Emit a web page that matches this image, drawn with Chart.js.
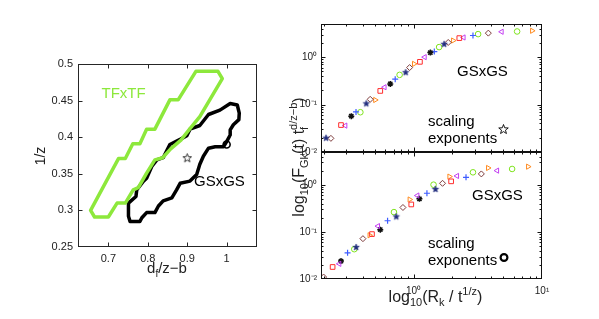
<!DOCTYPE html>
<html><head><meta charset="utf-8">
<script src="https://cdn.jsdelivr.net/npm/chart.js@4"></script>
<style>html,body{margin:0;padding:0;background:#fff}#wrap{position:relative;width:599px;height:319px;background:#fff}canvas{position:absolute;left:0;top:0}</style>
</head><body><div id="wrap">
<canvas id="c1" width="599" height="319"></canvas>
<canvas id="c2" width="599" height="319"></canvas>
<canvas id="c3" width="599" height="319"></canvas>
</div>
<script>
// ---------- data ----------
const leftXTicks = [0.7, 0.8, 0.9, 1];
const leftYTicks = [0.25, 0.3, 0.35, 0.4, 0.45, 0.5];
const logYTicks = [0.01, 0.1, 1];
const logXTicks = [1, 10];

const tfxtfContour = [[0.655,0.300],[0.726,0.371],[0.743,0.371],[0.762,0.391],[0.780,0.391],[0.797,0.411],[0.818,0.411],[0.856,0.451],[0.877,0.451],[0.922,0.490],[0.978,0.490],[0.989,0.480],[0.932,0.428],[0.906,0.411],[0.884,0.396],[0.858,0.384],[0.838,0.372],[0.818,0.369],[0.797,0.351],[0.776,0.331],[0.763,0.328],[0.743,0.310],[0.722,0.310],[0.700,0.291],[0.665,0.291],[0.655,0.300]];
const gsxgsContour = [[0.751,0.292],[0.751,0.310],[0.770,0.319],[0.772,0.328],[0.789,0.340],[0.797,0.344],[0.810,0.360],[0.823,0.369],[0.839,0.372],[0.856,0.390],[0.882,0.397],[0.899,0.402],[0.907,0.411],[0.932,0.416],[0.954,0.431],[0.983,0.437],[1.009,0.446],[1.027,0.444],[1.032,0.433],[1.031,0.424],[1.017,0.417],[1.009,0.410],[1.009,0.403],[1.000,0.394],[0.992,0.387],[0.971,0.387],[0.954,0.385],[0.941,0.374],[0.932,0.363],[0.924,0.349],[0.907,0.340],[0.882,0.337],[0.873,0.328],[0.861,0.317],[0.839,0.313],[0.827,0.306],[0.818,0.297],[0.797,0.297],[0.785,0.290],[0.780,0.285],[0.755,0.285],[0.751,0.292]];
const starExponent = [[0.9, 0.372]];
const circleExponent = [[1.0, 0.39]];

const upStar = [[0.208,0.020],[0.428,0.106],[0.867,0.482],[1.73,1.91]];
const upDiamond = [[0.227,0.0194],[0.459,0.129],[0.931,0.603],[1.86,2.04],[3.82,3.21]];
const upSquare = [[0.272,0.037],[0.55,0.194],[1.12,0.796],[2.27,2.52]];
const upTriLeft = [[0.294,0.036],[0.594,0.232],[1.22,1.0],[2.45,2.6],[4.85,3.43]];
const upAsterisk = [[0.327,0.057],[0.658,0.273],[1.35,1.25]];
const upPlus = [[0.356,0.070],[0.719,0.343],[1.45,1.31],[2.9,2.86]];
const upCircle = [[0.385,0.069],[0.778,0.423],[1.58,1.63],[3.18,3.06],[6.4,3.48]];
const upTriRight = [[0.502,0.125],[1.007,0.722],[2.03,2.24],[8.37,3.6]];

const loStar = [[0.357,0.048],[0.733,0.214],[1.48,0.82]];
const loDiamond = [[0.199,0.011],[0.403,0.072],[0.826,0.331],[1.68,1.08],[3.37,1.71]];
const loSquare = [[0.234,0.018],[0.474,0.090],[0.959,0.384],[1.96,1.19]];
const loTriLeft = [[0.264,0.021],[0.528,0.133],[1.07,0.594],[2.18,1.55],[4.47,2.01]];
const loAsterisk = [[0.272,0.024],[0.55,0.112],[1.11,0.506]];
const loPlus = [[0.306,0.036],[0.627,0.173],[1.27,0.664],[2.56,1.45]];
const loCircle = [[0.345,0.043],[0.703,0.264],[1.43,1.01],[2.9,1.85],[5.85,2.18]];
const loTriRight = [[0.454,0.085],[0.931,0.489],[1.90,1.50],[3.80,2.29],[7.79,2.44]];

// ---------- helpers ----------
const FONT = '"Liberation Sans", Arial, Helvetica, sans-serif';
Chart.defaults.font.family = FONT;
Chart.defaults.color = '#222';
const GREEN = '#8de83c';
const pts = a => a.map(p => ({x: p[0], y: p[1]}));
const SUP = {'0':'⁰','1':'¹','2':'²','3':'³','-':'⁻'};
const pow10Label = v => '10' + String(Math.round(Math.log10(v))).split('').map(c => SUP[c]).join('');

function starImage(r, fill, stroke, lw) {
  const s = Math.ceil(2 * r + 2 * lw + 2);
  const c = document.createElement('canvas'); c.width = s; c.height = s;
  const g = c.getContext('2d'); g.translate(s / 2, s / 2 + r * 0.1);
  g.beginPath();
  for (let i = 0; i < 10; i++) {
    const rr = i % 2 ? r * 0.42 : r; const a = -Math.PI / 2 + i * Math.PI / 5;
    g.lineTo(rr * Math.cos(a), rr * Math.sin(a));
  }
  g.closePath();
  if (fill) { g.fillStyle = fill; g.fill(); }
  if (stroke) { g.strokeStyle = stroke; g.lineWidth = lw; g.lineJoin = 'miter'; g.stroke(); }
  return c;
}
function drawStar(ctx, x, y, r, stroke, lw) {
  ctx.save(); ctx.beginPath();
  for (let i = 0; i < 10; i++) {
    const rr = i % 2 ? r * 0.42 : r; const a = -Math.PI / 2 + i * Math.PI / 5;
    ctx.lineTo(x + rr * Math.cos(a), y + rr * Math.sin(a));
  }
  ctx.closePath(); ctx.strokeStyle = stroke; ctx.lineWidth = lw; ctx.stroke(); ctx.restore();
}
// rich text: parts = [{t,s,dy}] or arrays of such (stacked at same x)
function rich(ctx, parts, x, y, o) {
  o = o || {};
  ctx.save(); ctx.translate(x, y); if (o.rot) ctx.rotate(o.rot);
  ctx.fillStyle = o.color || '#000'; ctx.textBaseline = 'alphabetic'; ctx.textAlign = 'left';
  const meas = p => { ctx.font = p.s + 'px ' + FONT; return ctx.measureText(p.t).width; };
  const adv = parts.map(p => Array.isArray(p) ? Math.max(...p.map(meas)) : meas(p));
  const total = adv.reduce((a, b) => a + b, 0);
  let cx = o.align === 'center' ? -total / 2 : 0;
  parts.forEach((p, i) => {
    (Array.isArray(p) ? p : [p]).forEach(q => { ctx.font = q.s + 'px ' + FONT; ctx.fillText(q.t, cx, q.dy || 0); });
    cx += adv[i];
  });
  ctx.restore();
}
function fixed(w, h) {
  return s => { if (w !== undefined) s.width = w; if (h !== undefined) s.height = h; };
}
function framePlugin(cfg) {
  return {
    id: 'frame',
    afterDraw(chart) {
      const {ctx, chartArea: a, scales} = chart;
      const L = a.left + 0.5, R = a.right - 0.5, T = a.top + 0.5, B = a.bottom - 0.5;
      ctx.save();
      ctx.strokeStyle = cfg.color; ctx.lineWidth = 1;
      ctx.strokeRect(L, T, R - L, B - T);
      const tick = (vals, len, axis) => {
        vals.forEach(v => {
          ctx.beginPath();
          if (axis === 'x') {
            const px = Math.round(scales.x.getPixelForValue(v)) + 0.5;
            if (px < L || px > R) return;
            ctx.moveTo(px, B); ctx.lineTo(px, B - len); ctx.moveTo(px, T); ctx.lineTo(px, T + len);
          } else {
            const py = Math.round(scales.y.getPixelForValue(v)) + 0.5;
            if (py < T - 0.1 || py > B + 0.1) return;
            ctx.moveTo(L, py); ctx.lineTo(L + len, py); ctx.moveTo(R, py); ctx.lineTo(R - len, py);
          }
          ctx.stroke();
        });
      };
      tick(cfg.xMajor || [], 4, 'x'); tick(cfg.xMinor || [], 2, 'x');
      tick(cfg.yMajor || [], 4, 'y'); tick(cfg.yMinor || [], 2, 'y');
      ctx.restore();
      (cfg.texts || []).forEach(t => rich(ctx, t.parts, t.x, t.y, t));
      (cfg.extra || []).forEach(f => f(ctx));
    }
  };
}
const logMinor = (from, to) => { const r = []; for (let d = from; d < to; d++) for (let k = 2; k <= 9; k++) r.push(k * Math.pow(10, d)); return r; };
const T15 = t => [{t, s: 15}];

// ---------- left chart ----------
new Chart(document.getElementById('c1'), {
  type: 'scatter',
  data: { datasets: [
    { label: 'TFxTF', data: pts(tfxtfContour), showLine: true, borderColor: GREEN, borderWidth: 3.5, pointRadius: 0, borderJoinStyle: 'round', borderCapStyle: 'round', tension: 0, fill: false },
    { label: 'GSxGS', data: pts(gsxgsContour), showLine: true, borderColor: '#000', borderWidth: 3.5, pointRadius: 0, borderJoinStyle: 'round', borderCapStyle: 'round', tension: 0, fill: false },
    { label: 'star', data: pts(starExponent), pointStyle: starImage(4.5, null, '#000', 0.8), pointRadius: 5 },
    { label: 'circle', data: pts(circleExponent), pointStyle: 'circle', pointRadius: 3.5, borderColor: '#000', borderWidth: 1.6, backgroundColor: 'rgba(0,0,0,0)' }
  ]},
  options: {
    responsive: false, animation: false, devicePixelRatio: 1,
    layout: { padding: { left: 38, right: 342, top: 64, bottom: 42 } },
    plugins: { legend: { display: false }, tooltip: { enabled: false } },
    scales: {
      x: { type: 'linear', min: 0.623, max: 1.077, afterFit: fixed(undefined, 30),
           afterBuildTicks: s => { s.ticks = leftXTicks.map(v => ({value: v})); },
           ticks: { font: { size: 11 }, padding: 5, maxRotation: 0, autoSkip: false, callback: v => String(+v.toFixed(2)) },
           grid: { display: false, drawTicks: false }, border: { display: false } },
      y: { type: 'linear', min: 0.25, max: 0.5, afterFit: fixed(40),
           afterBuildTicks: s => { s.ticks = leftYTicks.map(v => ({value: v})); },
           ticks: { font: { size: 11 }, padding: 5, autoSkip: false, callback: v => String(+v.toFixed(2)) },
           grid: { display: false, drawTicks: false }, border: { display: false } }
    }
  },
  plugins: [framePlugin({
    color: '#262626', xMajor: leftXTicks, yMajor: leftYTicks,
    texts: [
      { parts: T15('TFxTF'), x: 101.5, y: 98, color: GREEN },
      { parts: T15('GSxGS'), x: 194, y: 185.5 },
      { parts: [{t:'1/z', s:14}], x: 45, y: 156, rot: -Math.PI/2, align: 'center', color: '#222' },
      { parts: [{t:'d', s:15}, {t:'f', s:10, dy:4}, {t:'/z−b', s:15}], x: 167, y: 273, align: 'center', color: '#222' }
    ]
  })]
});

// ---------- right charts ----------
const markerSets = (star, diamond, square, triL, ast, plus, circ, triR) => [
  { data: pts(star), pointStyle: starImage(3.4, '#1e2a7c', '#1e2a7c', 0.6), pointRadius: 4 },
  { data: pts(diamond), pointStyle: 'rectRot', pointRadius: 3, borderColor: '#7d3b3b', borderWidth: 1, backgroundColor: 'rgba(0,0,0,0)' },
  { data: pts(square), pointStyle: 'rect', pointRadius: 3.3, borderColor: '#ff2d2d', borderWidth: 1, backgroundColor: 'rgba(0,0,0,0)' },
  { data: pts(triL), pointStyle: 'triangle', rotation: -90, pointRadius: 3, borderColor: '#c33ff2', borderWidth: 1, backgroundColor: 'rgba(0,0,0,0)' },
  { data: pts(ast), pointStyle: 'star', pointRadius: 3, borderColor: '#111', borderWidth: 1.5, backgroundColor: '#111' },
  { data: pts(plus), pointStyle: 'cross', pointRadius: 3, borderColor: '#3d5cff', borderWidth: 1.2 },
  { data: pts(circ), pointStyle: 'circle', pointRadius: 2.8, borderColor: '#7fe31e', borderWidth: 1, backgroundColor: 'rgba(0,0,0,0)' },
  { data: pts(triR), pointStyle: 'triangle', rotation: 90, pointRadius: 3, borderColor: '#ff8a1f', borderWidth: 1, backgroundColor: 'rgba(0,0,0,0)' }
];
const xMinorR = logMinor(-1, 1);
const yMinorR = logMinor(-2, 1);
function rightChart(id, datasets, top, bottom, showX, texts, extra) {
  return new Chart(document.getElementById(id), {
    type: 'scatter',
    data: { datasets },
    options: {
      responsive: false, animation: false, devicePixelRatio: 1,
      layout: { padding: { left: 291, right: 57, top: top, bottom: 319 - bottom - (showX ? 20 : 0) } },
      plugins: { legend: { display: false }, tooltip: { enabled: false } },
      scales: {
        x: { type: 'logarithmic', min: 0.19, max: 10, display: true, afterFit: fixed(undefined, showX ? 20 : 0),
             afterBuildTicks: s => { s.ticks = logXTicks.map(v => ({value: v})); },
             ticks: { display: showX, font: { size: 10 }, padding: 6, maxRotation: 0, autoSkip: false, callback: v => pow10Label(v) },
             grid: { display: false, drawTicks: false }, border: { display: false } },
        y: { type: 'logarithmic', min: 0.01, max: 5, afterFit: fixed(30),
             afterBuildTicks: s => { s.ticks = logYTicks.map(v => ({value: v})); },
             ticks: { font: { size: 10 }, padding: 4, autoSkip: false, callback: v => pow10Label(v) },
             grid: { display: false, drawTicks: false }, border: { display: false } }
      }
    },
    plugins: [framePlugin({ color: '#111', xMajor: logXTicks, xMinor: xMinorR, yMajor: logYTicks, yMinor: yMinorR, texts, extra })]
  });
}
rightChart('c2', markerSets(upStar, upDiamond, upSquare, upTriLeft, upAsterisk, upPlus, upCircle, upTriRight), 24, 152, false, [
  { parts: T15('GSxGS'), x: 457, y: 75.5 },
  { parts: T15('scaling'), x: 428, y: 126 },
  { parts: T15('exponents'), x: 428, y: 143 },
  { parts: [{t:'log', s:16}, {t:'10', s:11, dy:4}, {t:'(F', s:16}, {t:'Gk', s:11, dy:4}, {t:'(t) t', s:16}, [{t:'f', s:11, dy:4}, {t:'d/z−b', s:11, dy:-7}], {t:')', s:16}],
    x: 304, y: 157, rot: -Math.PI/2, align: 'center', color: '#222' }
], [ctx => drawStar(ctx, 503.5, 129.5, 5, '#000', 0.9)]);
rightChart('c3', markerSets(loStar, loDiamond, loSquare, loTriLeft, loAsterisk, loPlus, loCircle, loTriRight), 152, 279, true, [
  { parts: T15('GSxGS'), x: 472, y: 199.5 },
  { parts: T15('scaling'), x: 428, y: 248 },
  { parts: T15('exponents'), x: 428, y: 265 },
  { parts: [{t:'log', s:16}, {t:'10', s:11, dy:4}, {t:'(R', s:16}, {t:'k', s:11, dy:4}, {t:' / t', s:16}, {t:'1/z', s:11, dy:-7}, {t:')', s:16}],
    x: 435.5, y: 302, align: 'center', color: '#222' }
], [ctx => { ctx.save(); ctx.beginPath(); ctx.arc(504, 257.5, 3.4, 0, 2 * Math.PI); ctx.lineWidth = 2.2; ctx.strokeStyle = '#000'; ctx.stroke(); ctx.restore(); }]);
</script>
</body></html>
